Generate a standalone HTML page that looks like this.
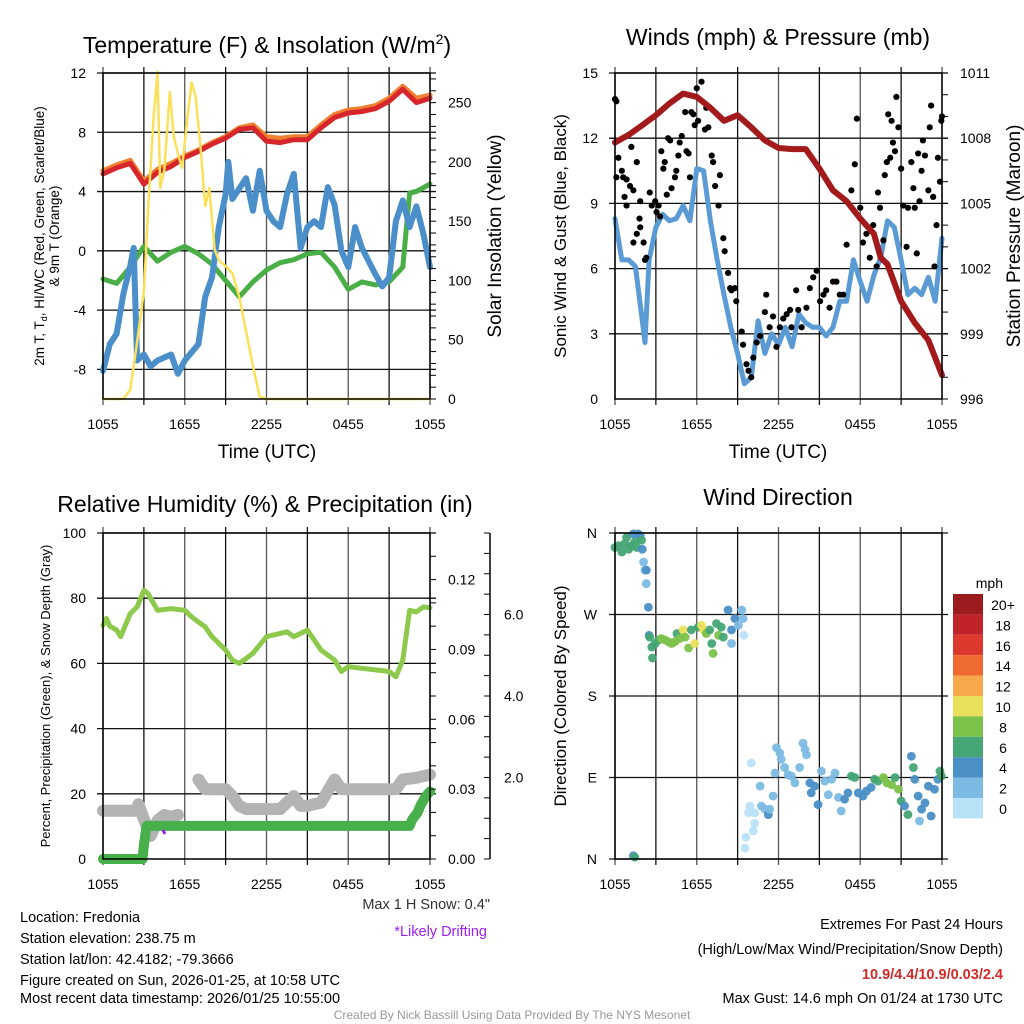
<!DOCTYPE html>
<html><head><meta charset="utf-8"><style>
html,body{margin:0;padding:0;background:#fff;}
svg{display:block;font-family:"Liberation Sans",sans-serif;}
</style></head><body>
<svg id="c" width="1024" height="1024" viewBox="0 0 1024 1024" xmlns="http://www.w3.org/2000/svg">
<rect width="1024" height="1024" fill="#fff"/>
<g id="grid"></g>
<g id="marks"></g>
<g id="axes"></g>
<g id="txt" fill="#000">
<text x="267" y="53" font-size="23" text-anchor="middle">Temperature (F) &amp; Insolation (W/m<tspan dy="-9" font-size="14">2</tspan><tspan dy="9">)</tspan></text>
<text x="778" y="45" font-size="23" text-anchor="middle">Winds (mph) &amp; Pressure (mb)</text>
<text x="265" y="512" font-size="23" text-anchor="middle">Relative Humidity (%) &amp; Precipitation (in)</text>
<text x="778" y="505" font-size="23" text-anchor="middle">Wind Direction</text>
<text x="267" y="458" font-size="19" text-anchor="middle">Time (UTC)</text>
<text x="778" y="458" font-size="19" text-anchor="middle">Time (UTC)</text>
<text transform="translate(44,236) rotate(-90)" font-size="13.5" text-anchor="middle">2m T, T<tspan dy="3" font-size="9">d</tspan><tspan dy="-3">, HI/WC (Red, Green, Scarlet/Blue)</tspan></text>
<text transform="translate(59,236) rotate(-90)" font-size="13.5" text-anchor="middle">&amp; 9m T (Orange)</text>
<text transform="translate(501,236) rotate(-90)" font-size="19" text-anchor="middle">Solar Insolation (Yellow)</text>
<text transform="translate(566,236) rotate(-90)" font-size="17" text-anchor="middle">Sonic Wind &amp; Gust (Blue, Black)</text>
<text transform="translate(1020,236) rotate(-90)" font-size="19" text-anchor="middle">Station Pressure (Maroon)</text>
<text transform="translate(50,696) rotate(-90)" font-size="13" text-anchor="middle">Percent, Precipitation (Green), &amp; Snow Depth (Gray)</text>
<text transform="translate(566,696) rotate(-90)" font-size="17" text-anchor="middle">Direction (Colored By Speed)</text>
<text x="490" y="909" font-size="14.5" text-anchor="end" fill="#333">Max 1 H Snow: 0.4"</text>
<text x="487" y="936" font-size="14.5" text-anchor="end" fill="#a020f0">*Likely Drifting</text>
<g font-size="14.5">
<text x="20" y="922">Location: Fredonia</text>
<text x="20" y="943">Station elevation: 238.75 m</text>
<text x="20" y="964">Station lat/lon: 42.4182; -79.3666</text>
<text x="20" y="985">Figure created on Sun, 2026-01-25, at 10:58 UTC</text>
<text x="20" y="1003">Most recent data timestamp: 2026/01/25 10:55:00</text>
</g>
<g font-size="14.5" text-anchor="end">
<text x="1003" y="929">Extremes For Past 24 Hours</text>
<text x="1003" y="954">(High/Low/Max Wind/Precipitation/Snow Depth)</text>
<text x="1003" y="979" fill="#d42a2a" font-weight="bold">10.9/4.4/10.9/0.03/2.4</text>
<text x="1003" y="1003">Max Gust: 14.6 mph On 01/24 at 1730 UTC</text>
</g>
<text x="512" y="1019" font-size="12" text-anchor="middle" fill="#999">Created By Nick Bassill Using Data Provided By The NYS Mesonet</text>
<text x="1003" y="588" font-size="14" text-anchor="end">mph</text>
</g>
<g id="legend"></g>
</svg>
<script>
// ---------- data ----------
const tickLabels = ['1055','1655','2255','0455','1055'];
const tempT = [0,1,2,3,4,5,6,7,8,9,10,11,12,13,14,15,16,17,18,19,20,21,22,23,24];
const temp2m = [5.2,5.6,5.9,4.5,5.3,5.7,6.3,6.7,7.2,7.6,8.2,8.3,7.4,7.3,7.5,7.5,8.3,9.0,9.3,9.4,9.6,10.1,10.9,10.0,10.3];
const temp9m = [5.4,5.8,6.1,4.7,5.5,5.9,6.4,6.8,7.3,7.7,8.3,8.5,7.7,7.6,7.7,7.7,8.5,9.2,9.5,9.6,9.8,10.3,11.1,10.3,10.5];
const dewT = [0,1,2,3,4,5,6,7,8,9,10,11,12,13,14,15,16,17,18,19,20,21,22,22.5,23,24];
const dewV = [-1.9,-2.2,-1.1,0.3,-0.7,-0.1,0.3,-0.2,-0.9,-2.0,-3.1,-2.1,-1.3,-0.8,-0.6,-0.2,-0.1,-1.1,-2.6,-2.1,-2.3,-2.1,-1.1,3.9,4.0,4.5];
const wcT = [0,0.5,1,1.5,2,2.25,2.5,3,3.5,4,5,5.5,6,7,7.5,8,8.5,9,9.2,9.5,10.5,11,11.5,12,12.5,13,13.5,14,14.5,15,15.5,16,16.5,17,17.5,18,18.5,19,19.5,20,20.5,21,21.5,22,22.5,23,23.5,24];
const wcV = [-8.1,-6.3,-5.6,-2.9,-1.0,0.2,-7.4,-7.0,-7.8,-7.4,-7.0,-8.3,-7.4,-6.3,-3.1,-1.8,1.6,3.8,6.0,3.5,4.9,2.7,5.4,2.7,2.0,1.6,3.8,5.2,0.2,1.6,2.0,1.6,4.3,3.1,0.0,-1.1,1.6,0.2,-0.7,-1.6,-2.4,-1.8,2.0,3.4,1.6,3.0,1.2,-1.1];
const solT = [0,1.5,2,2.5,3,3.3,3.7,4,4.2,4.5,4.9,5.2,5.5,5.8,6.2,6.5,6.8,7.2,7.5,7.8,8.2,8.5,9,9.5,10,10.5,11,11.5,12,24];
const solV = [0,0,8,48,91,158,235,276,178,193,259,221,207,195,238,267,255,207,163,178,126,117,112,106,86,57,28,2,0,0];

const windT = [0,0.5,1,1.5,2,2.2,2.5,3,3.5,4,4.5,5,5.5,6,6.5,7,7.5,8,8.5,9,9.5,10,10.5,11,11.5,12,12.5,13,13.5,14,14.5,15,15.5,16,16.5,17,17.5,18,18.5,19,19.5,20,20.5,21,21.5,22,22.5,23,23.5,24];
const windV = [8.3,6.4,6.4,6.1,3.6,2.6,6.4,7.9,8.5,8.2,8.3,8.9,8.2,10.6,10.5,8.2,6.4,4.8,3.3,2.1,0.7,1.0,3.6,2.1,3.0,2.5,3.3,2.4,3.9,3.5,3.3,3.3,2.9,3.3,4.5,4.5,6.4,5.4,4.5,5.7,6.5,8.2,7.9,6.4,4.8,5.1,4.8,5.6,4.5,7.4];
const presT = [0,1,2,3,4,5,6,7,8,9,10,11,12,13,14,15,16,17,18,19,19.5,20,21,22,23,24];
const presV = [1007.8,1008.15,1008.6,1009.06,1009.6,1010.05,1009.9,1009.4,1008.8,1009.06,1008.5,1007.9,1007.55,1007.5,1007.5,1006.6,1005.6,1005.1,1004.3,1003.6,1002.5,1002.2,1000.5,999.5,998.7,997.1];
const gustT = [0,0.1,0.25,0.1,0.5,0.6,0.85,0.7,0.85,1.1,1.2,1.35,1.6,1.85,1.8,1.85,1.35,1.6,2.1,2.2,2.3,2.55,2.7,2.95,3.05,3.2,3.3,3.4,3.55,3.65,3.8,3.9,4.05,4.15,4.4,4.5,4.65,4.75,4.9,5.15,5.25,5.4,5.5,5.6,5.75,5.85,6.0,6.1,6.35,6.6,6.7,6.85,7.1,7.2,7.35,7.6,7.7,7.95,8.05,8.3,8.45,8.55,8.8,8.9,9.3,9.4,9.65,9.8,10.0,10.15,10.4,10.65,11.0,11.1,11.35,11.6,11.85,12.1,12.35,12.6,12.85,12.95,13.3,13.45,13.7,14.05,14.3,14.55,14.8,15.05,15.3,15.5,15.75,16.0,16.25,16.5,16.75,17.0,17.35,17.6,17.75,18.0,18.2,18.45,18.7,18.95,19.2,19.3,19.45,19.7,19.8,19.95,20.05,20.2,20.3,20.4,20.55,20.65,20.8,21.0,21.15,21.4,21.5,21.75,21.9,22.0,22.15,22.25,22.35,22.5,22.6,22.75,23.0,23.1,23.2,23.35,23.45,23.6,23.7,23.85,23.95,24.0];
const gustV = [13.8,13.7,11.1,10.2,10.5,10.2,10.1,9.3,8.9,9.8,11.6,9.6,10.9,9.1,8.3,7.9,7.2,7.6,7.2,6.4,6.5,9.5,8.9,9.1,8.6,8.9,8.4,11.4,10.6,10.9,9.4,12.0,11.9,9.7,10.2,10.5,11.2,11.8,12.1,13.2,11.4,11.3,10.2,13.2,13.1,12.6,14.3,12.8,14.6,12.4,13.4,12.5,11.2,10.9,9.8,8.9,10.3,7.4,6.8,5.8,5.1,5.0,5.1,4.5,3.1,2.5,1.6,1.3,1.0,1.9,2.6,2.9,4.0,4.8,3.3,3.8,2.4,3.3,3.7,3.9,4.1,3.3,5.0,4.1,3.3,4.2,5.1,5.6,5.9,4.5,4.8,5.0,4.2,5.4,5.4,4.8,4.8,7.1,9.6,10.8,12.9,8.8,7.2,7.6,6.5,8.0,6.1,9.5,8.8,7.3,10.3,10.9,13.1,11.1,12.8,11.8,11.4,13.9,12.5,10.6,8.9,7.0,8.8,10.9,9.7,8.8,6.7,11.3,9.1,10.5,11.9,11.2,9.6,12.5,13.5,9.3,6.1,8.0,11.1,10.0,12.8,13.0];

const rhT = [0,0.25,0.5,1,1.3,1.5,2,2.5,3,3.3,4,5,6,6.5,7,7.5,8,9,9.5,10,10.5,11,12,13,13.5,14,14.5,15,16,17,17.5,18,19,20,21,21.5,22,22.5,23,23.5,24];
const rhV = [71.7,73.8,71.4,70.2,68.2,70.2,75.3,77.3,82.4,81.4,76.3,76.8,76.3,74.3,72.7,71.2,68.2,64.1,61.0,60.0,61.5,63.1,68.2,69.2,69.7,68.2,69.2,70.2,64.1,61.0,57.5,59.0,58.5,58.0,57.5,55.9,61.0,76.3,75.8,77.3,77.1];
const snowT = [0,2.5,2.6,3,3.5,4,4.5,5,5.5,null,7,7.5,8,9,9.5,10,10.5,11,12,13,14,14.5,15,15.5,16,17,17.5,18,19,20,21,21.5,22,23,24];
const snowV = [14.8,14.8,16.8,12.2,7.1,11.8,13.5,12.9,13.5,null,24.4,21.4,21.4,21.4,19.3,16.3,15.3,15.3,15.3,15.3,19.3,16.3,16.3,16.8,17.3,24.4,21.4,21.4,21.4,21.4,21.4,21.4,24.4,24.9,25.9];
const precT = [0,2.9,3.0,3.2,22.5,22.7,23.1,23.3,23.7,24];
const precV = [0,0,0.006,0.0142,0.0142,0.017,0.02,0.023,0.027,0.029];

const dirT = [0,0.25,0.5,0.7,0.85,1.0,1.2,1.35,1.45,1.6,1.7,1.85,1.95,2.0,2.1,2.2,2.3,2.3,2.45,1.35,1.45,
2.5,2.55,2.7,2.75,2.95,3.2,3.4,3.65,3.9,4.15,4.4,4.55,4.75,5.0,5.15,5.4,5.6,5.85,6.1,6.35,6.5,6.7,6.95,7.1,7.2,7.45,7.6,7.8,7.95,8.3,8.55,8.55,8.8,9.05,9.3,9.4,9.45,
9.55,9.6,10.15,10.25,9.8,9.9,10.0,10.25,10.65,10.75,11.0,11.25,11.35,11.6,11.75,11.85,12.1,12.2,12.45,12.7,12.95,13.2,13.55,13.8,13.95,14.05,14.3,14.4,14.65,14.9,15.15,15.4,15.65,15.9,16.15,16.4,16.6,16.85,17.1,17.35,17.6,17.85,18.2,18.45,18.8,19.05,19.3,19.7,19.95,20.3,20.55,20.8,21.0,21.25,21.5,21.75,21.9,22.0,22.25,22.35,22.5,22.75,23.0,23.2,23.45,23.7,23.85,23.95];
const dirV = [344,346,339,348,355,342,346,359,350,344,359,357,352,342,328,319,304,319,278,3.6,2,
247,245,234,222,238,242,243.5,242,240,238,240,249,243.5,253,245,233,253,238,256,258,253,249,253,238,227,260,247,256,245,275,253,238,265.5,258,275,265.5,247,
12,24,31,39.5,51,58.5,106,51,80.5,58.5,55,49,55,69.5,95,123,117,110,101,93,91.5,84,101,128,121,115,84,73,80.5,60,97,86,71,88,95,68,53,66,73,91.5,90,73,69.5,75,79,88,86,90,84,82,90,77,64,58.5,49,113.5,101,88,69.5,42,55,62,80.5,47.5,77,88,97,91.5];
const dirS = [7,6,6,6,6,6,6,4,6,6,4,4,6,4,2,2,2,4,4,4,6,
4,6,6,6,6,6,8,8,8,8,8,6,8,10,8,8,6,10,6,10,10,8,6,6,8,6,8,6,6,4,4,2,4,2,2,2,1,
0,0,0,0,0,0,0,1,2,2,2,4,2,2,2,2,2,2,2,2,2,2,2,2,2,2,4,4,4,4,2,2,2,2,2,2,2,4,4,6,6,4,4,4,4,6,6,8,8,8,6,8,6,4,6,4,6,4,4,2,4,4,4,4,4,4,6,6];
const legendLabels = ['20+','18','16','14','12','10','8','6','4','2','0'];
const legendColors = ['#9b1c1f','#c0242a','#dd3a2d','#ef6a2e','#f7a84a','#e8e05a','#7cc24a','#45a574','#4a8fc6','#7cbae4','#b8e2f7'];

// ---------- helpers ----------
const NS='http://www.w3.org/2000/svg';
function mk(tag,attrs,parent){const e=document.createElementNS(NS,tag);for(const k in attrs)e.setAttribute(k,attrs[k]);parent.appendChild(e);return e;}
const G=document.getElementById('grid'),M=document.getElementById('marks'),A=document.getElementById('axes'),L=document.getElementById('legend');
function xL(h){return 103+h*327/24;}
function xR(h){return 615+h*327/24;}
const top1=73,bot1=399,top3=533,bot3=859;
const yT=v=>bot1-(v+10)*326/22, yS=v=>bot1-v*326/275;
const yW=v=>bot1-v*326/15, yP=v=>bot1-(v-996)*326/15;
const yR=v=>bot3-v*3.26, yPr=v=>bot3-v/0.14*326, yD=v=>bot3-v*326/360;
function path(ts,vs,xf,yf){let d='',pen=false;for(let i=0;i<ts.length;i++){if(ts[i]===null||vs[i]===null){pen=false;continue;}d+=(pen?'L':'M')+xf(ts[i]).toFixed(1)+' '+yf(vs[i]).toFixed(1);pen=true;}return d;}
function line(ts,vs,xf,yf,color,w,name){const p=mk('path',{d:path(ts,vs,xf,yf),fill:'none',stroke:color,'stroke-width':w,'stroke-linejoin':'round','stroke-linecap':'round'},M);

return p;}
function speedColor(s){const i=Math.min(10,Math.floor(s/2));return legendColors[10-i];}

// ---------- grids & frames ----------
function panel(x0,x1,y0,y1,hY,name){
  for(let k=0;k<=8;k++){const x=x0+(x1-x0)*k/8;const l=mk('line',{x1:x,x2:x,y1:y0-6,y2:y1+6,stroke:k%2?'#111':'#555','stroke-width':1.3},G);
  
  }
  hY.forEach(y=>{const l=mk('line',{x1:x0-6,x2:x1+6,y1:y,y2:y,stroke:'#111','stroke-width':1.3},G);
  
  });
  const r=mk('rect',{x:x0,y:y0,width:x1-x0,height:y1-y0,fill:'none',stroke:'#000','stroke-width':1.5},A);
  
  
  tickLabels.forEach((t,i)=>{const tx=mk('text',{x:x0+(x1-x0)*i/4,y:y1+30,'font-size':14,'text-anchor':'middle'},A);tx.textContent=t;
  
  });
}
panel(103,430,top1,bot1,[-8,-4,0,4,8,12].map(yT),'temperature-panel');
panel(615,942,top1,bot1,[3,6,9,12,15].map(yW),'wind-panel');
panel(103,430,top3,bot3,[20,40,60,80,100].map(yR),'humidity-panel');
panel(615,942,top3,bot3,[0,90,180,270,360].map(yD),'direction-panel');

function yLabels(vals,fmt,yf,x,anchor,name){
  vals.forEach(v=>{const t=mk('text',{x:x,y:yf(v)+5,'font-size':14,'text-anchor':anchor},A);t.textContent=fmt(v);
  
  });
}
yLabels([-8,-4,0,4,8,12],v=>String(v),yT,86,'end','temperature-y-tick');
yLabels([0,50,100,150,200,250],v=>String(v),yS,448,'start','insolation-y-tick');
yLabels([0,3,6,9,12,15],v=>String(v),yW,598,'end','wind-y-tick');
yLabels([996,999,1002,1005,1008,1011],v=>String(v),yP,960,'start','pressure-y-tick');
yLabels([0,20,40,60,80,100],v=>String(v),yR,86,'end','humidity-y-tick');
yLabels([0,0.03,0.06,0.09,0.12],v=>v.toFixed(2),yPr,448,'start','precip-y-tick');
yLabels([2,4,6],v=>v.toFixed(1),v=>bot3-v*326/8,504,'start','snow-y-tick');
[['N',360],['W',270],['S',180],['E',90],['N',0]].forEach(([n,v])=>{const t=mk('text',{x:597,y:yD(v)+5,'font-size':14,'text-anchor':'end'},A);t.textContent=n;

});
// minor ticks
for(let v=0;v<=275;v+=10){mk('line',{x1:430,x2:436,y1:yS(v),y2:yS(v),stroke:'#000','stroke-width':1},A);}
for(let v=996;v<=1011;v+=1){mk('line',{x1:942,x2:948,y1:yP(v),y2:yP(v),stroke:'#000','stroke-width':1},A);}
for(let v=0;v<=0.14;v+=0.01){mk('line',{x1:430,x2:436,y1:yPr(v),y2:yPr(v),stroke:'#000','stroke-width':1},A);}
const sa=mk('line',{x1:490,x2:490,y1:top3,y2:bot3,stroke:'#000','stroke-width':1.5},A);


for(let v=0;v<=8;v+=0.5){mk('line',{x1:484,x2:490,y1:bot3-v*326/8,y2:bot3-v*326/8,stroke:'#000','stroke-width':1},A);}

// ---------- panel 1 ----------
line(tempT,temp9m,xL,yT,'#f08030',5,'temp-9m-line');
line(tempT,temp2m,xL,yT,'#d7262b',5,'temp-2m-line');
line(dewT,dewV,xL,yT,'#4aae46',5,'dewpoint-line');
line(wcT,wcV,xL,yT,'#4a8fc9',6,'windchill-line');
line(solT,solV,xL,yS,'#fbe15a',2.5,'insolation-line');
// ---------- panel 2 ----------
line(windT,windV,xR,yW,'#5b9bd5',5,'sonic-wind-line');
gustT.forEach((t,i)=>{const c=mk('circle',{cx:xR(t),cy:yW(gustV[i]),r:3.1,fill:'#000'},M);

});
line(presT,presV,xR,yP,'#a31a1c',6,'pressure-line');
// ---------- panel 3 ----------
line(rhT,rhV,xL,yR,'#8dc94a',5,'humidity-line');
line(snowT,snowV,xL,yR,'#b3b3b3',12,'snow-depth-line');
line(precT,precV,xL,yPr,'#47b04a',10,'precip-line');
const dr=mk('path',{d:'M'+xL(4.4)+' '+(bot3-29)+'L'+xL(4.55)+' '+(bot3-25),stroke:'#a020f0','stroke-width':3},M);


// ---------- panel 4 ----------
dirT.forEach((t,i)=>{const c=mk('circle',{cx:xR(t),cy:yD(dirV[i]),r:4.4,fill:speedColor(dirS[i]),'fill-opacity':0.95},M);

});
// legend
legendLabels.forEach((lb,i)=>{const y=594+i*20.4;
const r=mk('rect',{x:953,y:y,width:30,height:20.4,fill:legendColors[i]},L);


const t=mk('text',{x:1003,y:y+16,'font-size':14,'text-anchor':'middle'},L);t.textContent=lb;

});
</script>
</body></html>
